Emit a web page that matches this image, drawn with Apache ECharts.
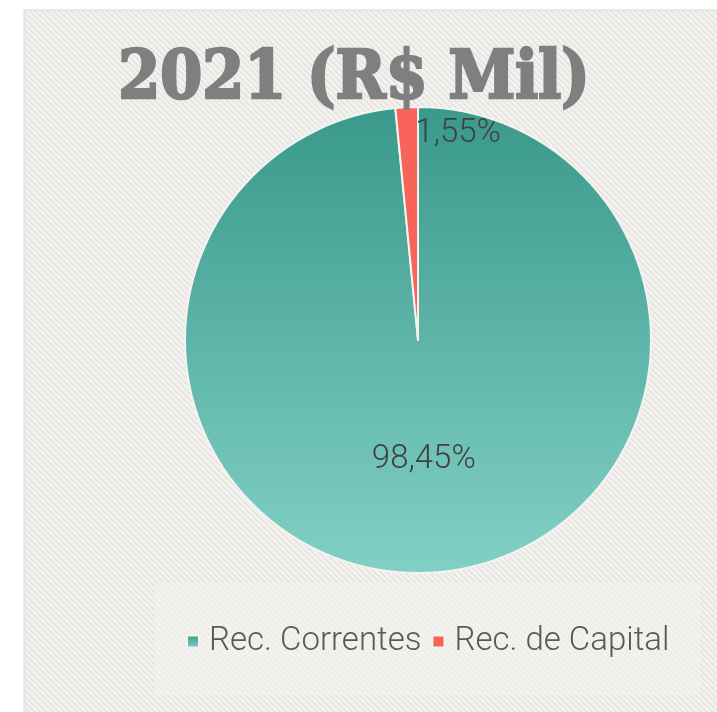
<!DOCTYPE html>
<html><head><meta charset="utf-8">
<script src="https://cdn.jsdelivr.net/npm/echarts@6/dist/echarts.min.js"></script>
<style>html,body{margin:0;padding:0;background:#fff;}#c{width:717px;height:712px;}</style>
</head><body><div id="c"></div>
<script>
const titleText = '2021 (R$ Mil)';
const categories = ['Rec. Correntes', 'Rec. de Capital'];
const values = [98.45, 1.55];
const labels = ['98,45%', '1,55%'];

function stripes(light, dark) {
  const cv = document.createElement('canvas');
  cv.width = 6; cv.height = 6;
  const g = cv.getContext('2d');
  g.fillStyle = light; g.fillRect(0, 0, 6, 6);
  g.fillStyle = dark;
  for (let i = 0; i < 6; i++) {
    g.fillRect(i, i, 1, 1);
    g.fillRect((i + 1) % 6, i, 1, 1);
  }
  return cv;
}
const bgPat = { image: stripes('#f2f1ed', '#e4e3df'), repeat: 'repeat' };

const chart = echarts.init(document.getElementById('c'));
const txtFont = 'Roboto';
chart.setOption({
  animation: false,
  graphic: [
    { type: 'rect', z: -10, shape: { x: 24, y: 10, width: 720, height: 720 },
      style: { fill: bgPat, stroke: '#d9d9d9', lineWidth: 1 } },
    { type: 'rect', z: -9, shape: { x: 155, y: 583, width: 545, height: 112 },
      style: { fill: 'rgba(244,243,239,0.6)' } }
  ],
  title: {
    text: titleText, left: 349, top: 42, textAlign: 'center',
    textStyle: { fontFamily: 'DejaVu Serif Condensed', fontWeight: 'bold', fontSize: 67, color: '#7f7f7f',
      textBorderColor: '#7f7f7f', textBorderWidth: 2.5 }
  },
  legend: {
    data: categories, left: 181, top: 620, itemWidth: 12, itemHeight: 12, itemGap: 10,
    icon: 'rect',
    textStyle: { fontFamily: txtFont, fontWeight: 300, fontSize: 33, color: '#595959', padding: [0, 0, 0, 5] }
  },
  series: [{
    type: 'pie', center: [418, 340], radius: [0, 233], startAngle: 90, clockwise: true,
    itemStyle: { borderColor: '#f4f3ef', borderWidth: 2 },
    label: { show: true, position: 'inside', fontFamily: txtFont, fontWeight: 300, fontSize: 33, color: '#404040',
      formatter: p => labels[p.dataIndex] },
    labelLine: { show: false },
    data: [
      { name: categories[0], value: values[0],
        itemStyle: { color: { type: 'linear', x: 0, y: 0, x2: 0, y2: 1, colorStops: [
          { offset: 0, color: '#39998b' }, { offset: 1, color: '#82d0c5' }] } } },
      { name: categories[1], value: values[1], itemStyle: { color: '#f8645a' },
        label: { offset: [46, -87] } }
    ]
  }]
});
</script></body></html>
